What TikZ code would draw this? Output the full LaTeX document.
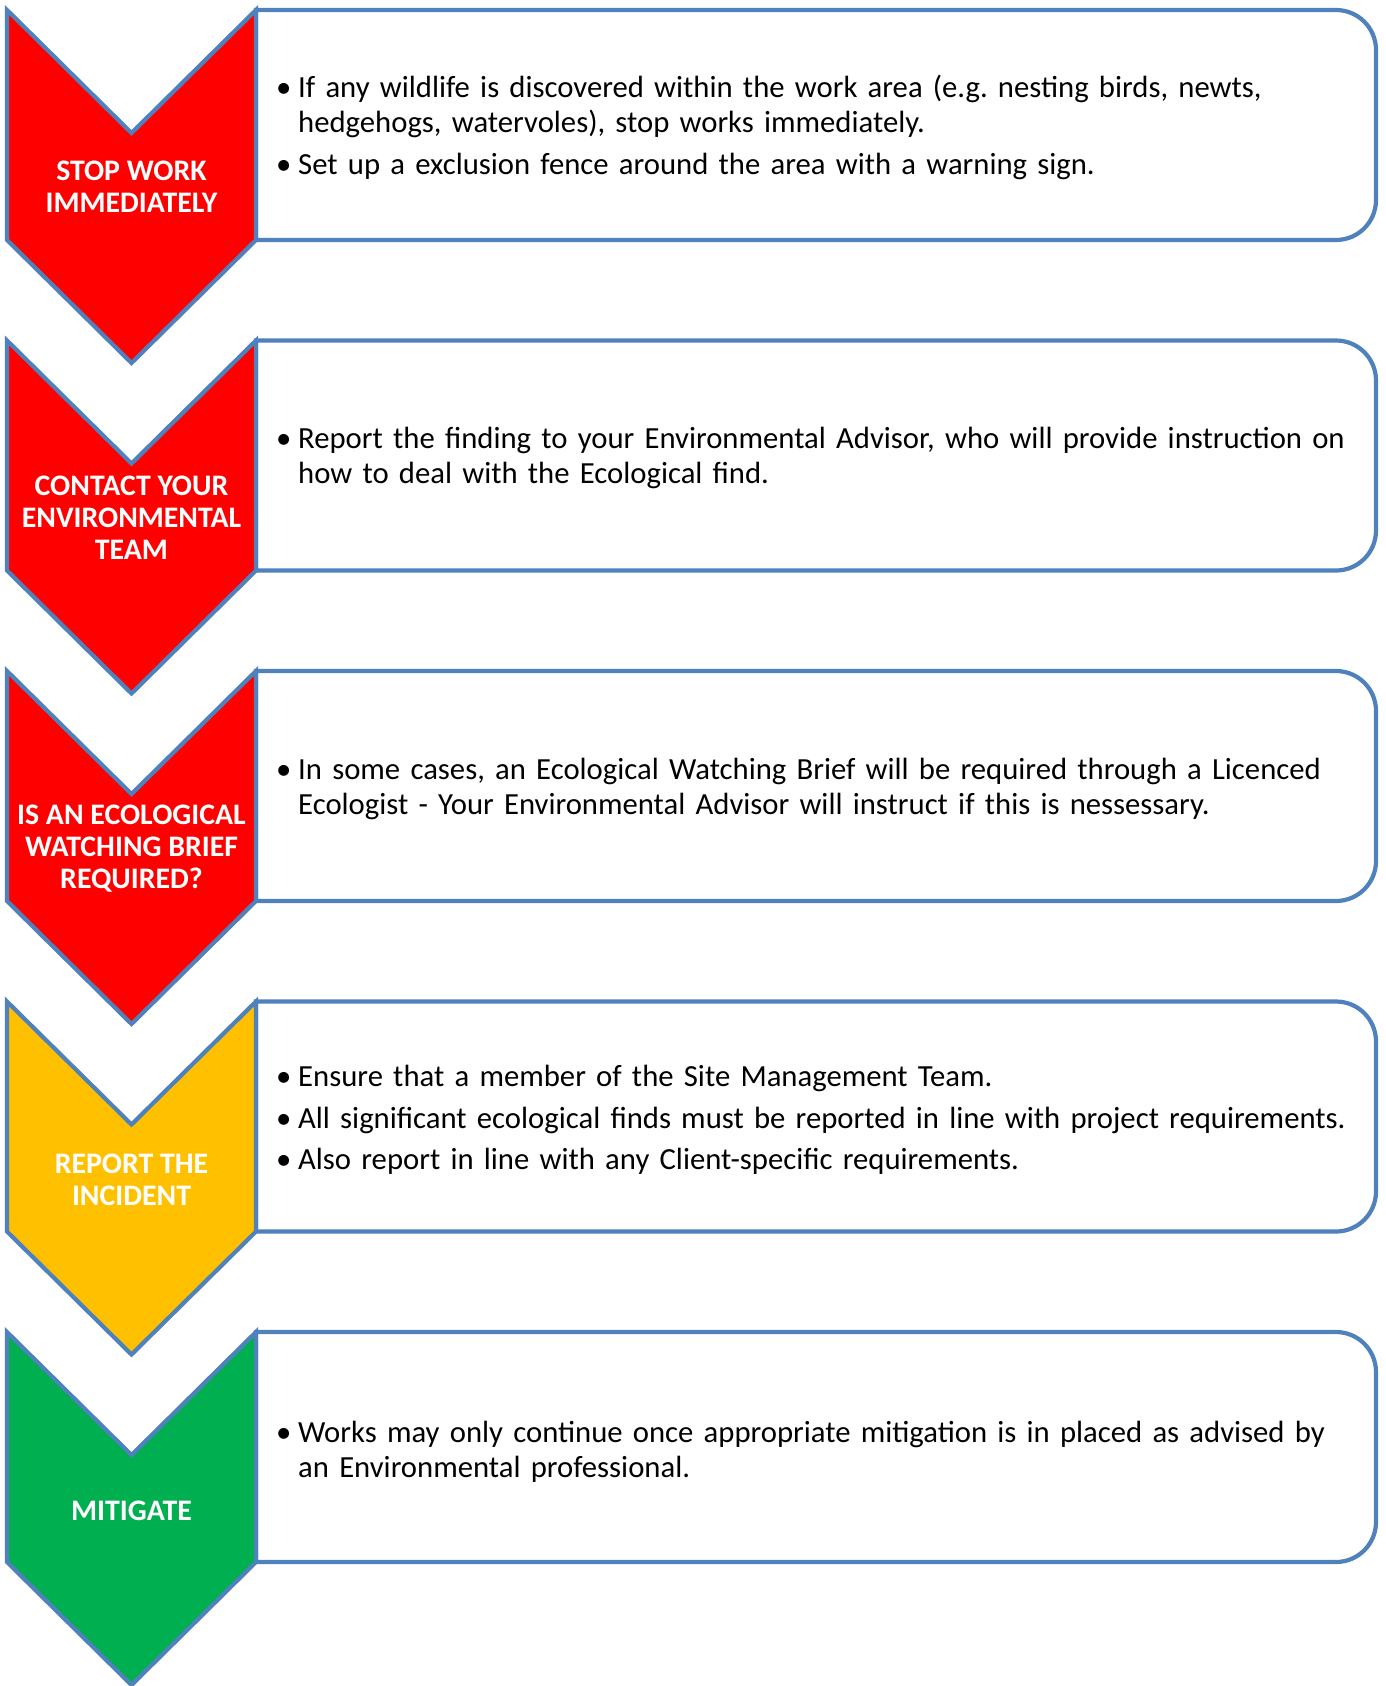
\documentclass[tikz,border=0pt]{standalone}
\usepackage{fontspec}
\setmainfont{Carlito}
\frenchspacing
\definecolor{bordblue}{HTML}{4F81BD}
\definecolor{cred}{HTML}{FF0000}
\definecolor{cyellow}{HTML}{FFC000}
\definecolor{cgreen}{HTML}{00B050}
\newcommand\bitem[1]{\hangindent=22pt\hangafter=1\noindent\makebox[22pt][l]{•}#1\par}
\tikzset{
  box/.style={draw=bordblue, line width=4.2pt, fill=white},
  chev/.style={draw=bordblue, line width=4.2pt, line join=miter},
  chevlabel/.style={text=white, font=\bfseries\fontsize{29.8}{32}\selectfont, align=center, inner sep=0pt},
  bullets/.style={anchor=west, text width=1100pt, align=left, inner sep=0pt,
    font=\fontsize{30.7}{35.5}\selectfont\setlength{\parskip}{6pt}}
}
\newcommand\stagebox[1]{%
  \draw[box] (256,#1) -- (1336,#1) arc[start angle=270, end angle=360, radius=40]
    -- (1376,#1+190) arc[start angle=0, end angle=90, radius=40] -- (256,#1+230) -- cycle;}
\newcommand\stagechev[2]{%
  \draw[chev, fill=#2] (7,#1) -- (131.5,#1+123) -- (256,#1) -- (256,#1+230)
    -- (131.5,#1+353) -- (7,#1+230) -- cycle;}
\begin{document}
\begin{tikzpicture}[x=1pt, y=-1pt]
\useasboundingbox (0,0) rectangle (1386,1686);
% boxes
\stagebox{10}
\stagebox{340.5}
\stagebox{671}
\stagebox{1001.5}
\stagebox{1332}
% chevrons
\stagechev{10}{cred}
\stagechev{340.5}{cred}
\stagechev{671}{cred}
\stagechev{1001.5}{cyellow}
\stagechev{1332}{cgreen}
% chevron labels
\node[chevlabel] (c1) at (131.5,186.5) {STOP WORK\\IMMEDIATELY};
\node[chevlabel] (c2) at (131.5,518) {CONTACT YOUR\\ENVIRONMENTAL\\TEAM};
\node[chevlabel] (c3) at (131.5,849) {IS AN ECOLOGICAL\\WATCHING BRIEF\\REQUIRED?};
\node[chevlabel] (c4) at (131.5,1179.5) {REPORT THE\\INCIDENT};
\node[chevlabel] (c5) at (131.5,1511) {MITIGATE};
% box texts
\node[bullets] (t1) at (276,127) {%
\bitem{If any wildlife is discovered within the work area (e.g. nesting birds, newts,\newline hedgehogs, watervoles), stop works immediately.}
\bitem{Set up a exclusion fence around the area with a warning sign.}};
\node[bullets] (t2) at (276,458) {%
\bitem{Report the finding to your Environmental Advisor, who will provide instruction on\newline how to deal with the Ecological find.}};
\node[bullets] (t3) at (276,789) {%
\bitem{In some cases, an Ecological Watching Brief will be required through a Licenced\newline Ecologist - Your Environmental Advisor will instruct if this is nessessary.}};
\node[bullets] (t4) at (276,1120) {%
\bitem{Ensure that a member of the Site Management Team.}
\bitem{All significant ecological finds must be reported in line with project requirements.}
\bitem{Also report in line with any Client-specific requirements.}};
\node[bullets] (t5) at (276,1452) {%
\bitem{Works may only continue once appropriate mitigation is in placed as advised by\newline an Environmental professional.}};
\end{tikzpicture}
\end{document}
